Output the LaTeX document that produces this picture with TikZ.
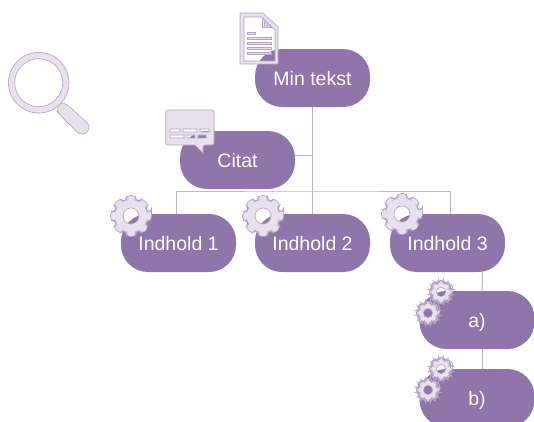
\documentclass[tikz,border=0pt]{standalone}
\usepackage{fontspec}
\setmainfont{Liberation Sans}
\usetikzlibrary{positioning,calc}
\definecolor{boxPurple}{HTML}{8F75A9}
\definecolor{iconFill}{HTML}{E6E1EC}
\definecolor{iconLine}{HTML}{B3A2C8}
\definecolor{linkLine}{HTML}{BFB1D2}
\begin{document}
\begin{tikzpicture}
  [x=1pt,y=-1pt,
   boxN/.style={rectangle,rounded corners=27pt,fill=boxPurple,text=white,minimum width=115pt,minimum height=58pt,inner sep=0pt,text height=17pt,text depth=3pt,font=\fontsize{19.5}{23}\selectfont,outer sep=0pt},
   linkL/.style={draw=linkLine,line width=1pt},
   iconS/.style={fill=iconFill,draw=iconLine,line width=0.6pt,even odd rule},
   gearI/.pic={
     \path[iconS,rounded corners=3.5pt] (-12:21) \foreach \a in {0,45,...,315}{
       -- (\a-12:21) -- (\a+12:21) -- (\a+17:16.5) -- (\a+28:16.5)} -- cycle
       [sharp corners] (0,0) circle (8);
   },
  ]

 \useasboundingbox (0,0) rectangle (534,421);

 % boxes
 \node[boxN] (minN) at (312.5,78) {Min tekst};
 \node[boxN] (citatN) at (237.5,160) {Citat};
 \node[boxN] (ind1N) at (178.5,243) {Indhold 1};
 \node[boxN] (ind2N) at (312.5,243) {Indhold 2};
 \node[boxN] (ind3N) at (447.5,243) {Indhold 3};
 \node[boxN] (aN) at (477,320) {a)};
 \node[boxN] (bN) at (477,398) {b)};

 % links
 \coordinate (busC) at (312.5,191);
 \draw[linkL] (minN.south) -- (ind2N.north);
 \draw[linkL] ([yshift=5pt]citatN.east) -- ([yshift=5pt]citatN.east -| minN.south);
 \draw[linkL] ([xshift=-2.5pt]ind1N.north) |- (busC) -| ([xshift=2.5pt]ind3N.north);
 \draw[linkL] ([xshift=35pt]ind3N.south) -- ([xshift=5pt]aN.north);
 \draw[linkL] ([xshift=5pt]aN.south) -- ([xshift=5pt]bN.north);

 % magnifier
 \path[iconS,rounded corners=3pt] (55,109) -- (61,102) -- (67.5,105) [rounded corners=7pt] -- (92,127) -- (82,137) -- (61,116) -- cycle;
 \path[iconS] (38.7,82.7) circle (30.3) (38.7,82.7) circle (24);

 % document
 \path[iconS] (240,13) -- (263,13) -- (278,27) -- (278,64) -- (240,64) -- cycle
   (244,17) -- (261.5,17) -- (275,30) -- (275,61) -- (244,61) -- cycle;
 \path[iconS] (262.5,18) -- (262.5,27.5) -- (272,27.5) -- cycle
   (264.5,22) -- (264.5,25.5) -- (268,25.5) -- cycle;
 \path[iconS] (247,32) rectangle (255.5,34.5);
 \foreach \y in {37,42,47,52} {
   \path[iconS] (247,\y) rectangle (271,\y+2.5);
 }

 % speech bubble
 \path[iconS,rounded corners=2pt] (165.7,110) -- (214,110) -- (214,145) -- (203,145)
   [sharp corners] -- (203,153) -- (195,145) [rounded corners=2pt] -- (165.7,145) -- cycle
   [sharp corners] (170,129) rectangle (180,132) (183,129) rectangle (197,132) (200,129) rectangle (209,132)
   (170,135) rectangle (184,138) (187,135) rectangle (195,138) (198,135) rectangle (206,138);

 % gears
 \pic at (131,216) {gearI};
 \pic at (263,216) {gearI};
 \pic at (402,214) {gearI};
 \pic[scale=0.58] at (441,292) {gearI};
 \pic[scale=0.58] at (428,313) {gearI};
 \pic[scale=0.58] at (441,369) {gearI};
 \pic[scale=0.58] at (428,390) {gearI};
\end{tikzpicture}
\end{document}
